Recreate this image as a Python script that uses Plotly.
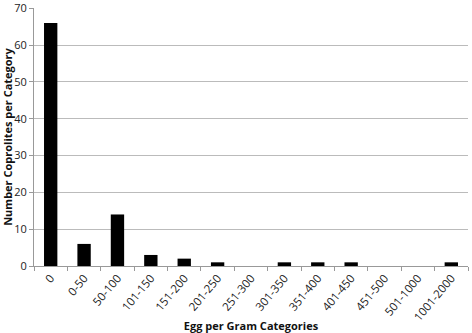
import plotly.graph_objects as go

categories = ["0", "0-50", "50-100", "101-150", "151-200", "201-250", "251-300",
              "301-350", "351-400", "401-450", "451-500", "501-1000", "1001-2000"]
counts = [66, 6, 14, 3, 2, 1, 0, 1, 1, 1, 0, 0, 1]
y_ticks = [0, 10, 20, 30, 40, 50, 60, 70]

fig = go.Figure(go.Bar(x=categories, y=counts, marker=dict(color="black", line=dict(width=0))))

font = "Open Sans, Liberation Sans, sans-serif"
fig.update_layout(
    width=472, height=333,
    margin=dict(l=34, r=4, t=8, b=67, autoexpand=False),
    plot_bgcolor="white", paper_bgcolor="white",
    bargap=0.6,
    showlegend=False,
    font=dict(family=font, color="#333333", size=10),
)
fig.update_xaxes(
    type="category",
    tickangle=-50,
    tickfont=dict(size=11.5, color="#222222"),
    showline=True, linecolor="#999999", linewidth=1,
    ticks="outside", tickson="boundaries", ticklen=4, tickcolor="#999999",
    showgrid=False, automargin=False,
    title=dict(text="<b>Egg per Gram Categories</b>", font=dict(size=11, color="#111111"), standoff=0),
)
fig.update_yaxes(
    range=[0, 70.1], tickvals=y_ticks,
    tickfont=dict(size=11, color="#222222"),
    showline=True, linecolor="#999999", linewidth=1,
    ticks="outside", ticklen=4, tickcolor="#999999",
    showgrid=True, gridcolor="#bbbbbb", gridwidth=1,
    zeroline=False, automargin=False,
    title=dict(text="<b>Number Coprolites per Category</b>", font=dict(size=11, color="#111111"), standoff=4),
)

fig.write_html("out.html", config={"displayModeBar": False},
               post_script="document.body.style.margin='0';document.body.style.padding='0';")
